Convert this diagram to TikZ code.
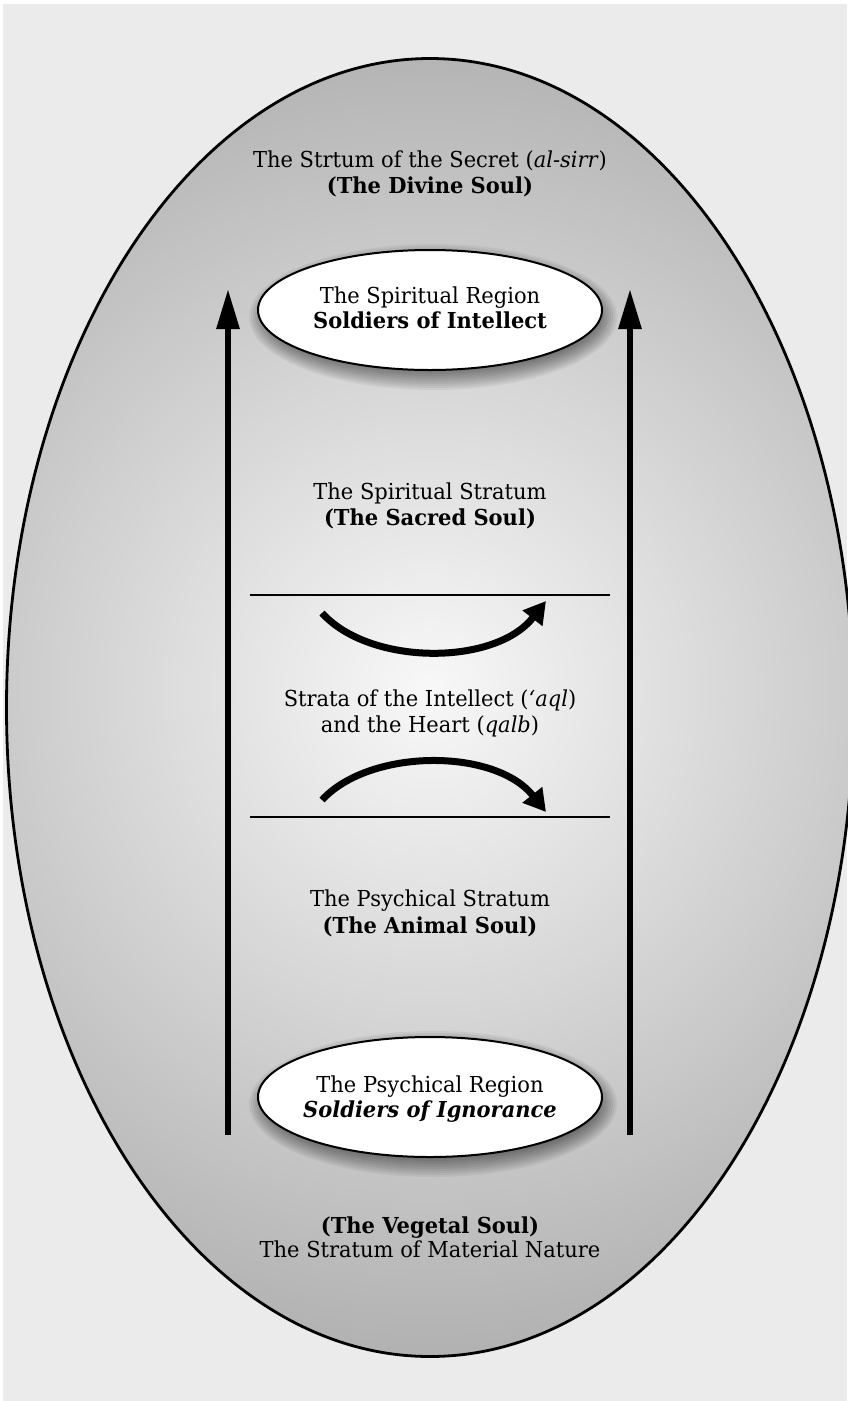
\documentclass[tikz,border=0pt]{standalone}
\usepackage{fontspec}
\setmainfont[FakeStretch=0.955]{DejaVu Serif}
\usetikzlibrary{arrows.meta,shapes.geometric}
\definecolor{bgc}{HTML}{EBEBEB}
\definecolor{shin}{HTML}{F8F8F8}
\definecolor{shout}{HTML}{B2B2B2}
\pgfdeclareradialshading{ovalshade}{\pgfpointorigin}{color(0bp)=(shin); color(23.5bp)=(shout); color(50bp)=(shout)}
\begin{document}
\begin{tikzpicture}[x=1pt,y=-1pt,
  txt/.style={font=\fontsize{22}{27}\selectfont, inner sep=0pt, anchor=base},
  outer/.style={ellipse, draw=black, line width=2.8pt, minimum width=847pt, minimum height=1298pt, inner sep=0pt},
  soulell/.style={ellipse, draw=black, line width=2pt, fill=white, minimum width=344pt, minimum height=120pt, inner sep=0pt},
  bigarrow/.style={line width=6pt, -{Triangle[length=40pt,width=22pt]}},
  curvarrow/.style={line width=7pt, -{Triangle[length=22pt,width=24pt]}},
  stratline/.style={line width=1.8pt}
]
\useasboundingbox (0,0) rectangle (847,1401);
\fill[white] (0,0) rectangle (847,1401);
\fill[bgc] (3,4) rectangle (847,1401);
% outer soul ellipse with gradient
\begin{scope}
  \clip (430,707.5) ellipse [x radius=423.5, y radius=649];
  \fill[shading=ovalshade] (430,690) circle [radius=700];
\end{scope}
\node[outer] (soul) at (430,707.5) {};
% vertical arrows
\coordinate (la0) at (228,1135);
\coordinate (la1) at (228,289);
\coordinate (ra0) at (630,1135);
\coordinate (ra1) at (630,289);
\draw[bigarrow] (la0) -- (la1);
\draw[bigarrow] (ra0) -- (ra1);
% shadows of inner ellipses
\foreach \c in {310,1097}{
  \foreach \i in {0,...,9}{
    \fill[black, opacity=0.05] (433,\c+7) ellipse [x radius=166+2*\i, y radius=55+2*\i];
  }
}
\node[soulell] (spir) at (430,310) {};
\node[soulell] (psych) at (430,1097) {};
% strata lines
\coordinate (h1l) at (250,595);
\coordinate (h1r) at (610,595);
\coordinate (h2l) at (250,817);
\coordinate (h2r) at (610,817);
\draw[stratline] (h1l) -- (h1r);
\draw[stratline] (h2l) -- (h2r);
% curved arrows
\coordinate (c1s) at (322,613);
\coordinate (c1e) at (546,601);
\coordinate (c2s) at (322,800);
\coordinate (c2e) at (546,812);
\draw[curvarrow] (c1s) .. controls (370,666) and (495,666) .. (c1e);
\draw[curvarrow] (c2s) .. controls (370,748) and (495,748) .. (c2e);
% texts
\node[txt] (t1a) at (430,167) {The Strtum of the Secret (\textit{al-sirr})};
\node[txt] (t1b) at (430,193) {\textbf{(The Divine Soul)}};
\node[txt] (sr1) at (430,303) {The Spiritual Region};
\node[txt] (sr2) at (430,328) {\textbf{Soldiers of Intellect}};
\node[txt] (ss1) at (430,499) {The Spiritual Stratum};
\node[txt] (ss2) at (430,525) {\textbf{(The Sacred Soul)}};
\node[txt] (st1) at (430,706) {Strata of the Intellect (\textit{‘aql})};
\node[txt] (st2) at (430,732) {and the Heart (\textit{qalb})};
\node[txt] (ps1) at (430,906) {The Psychical Stratum};
\node[txt] (ps2) at (430,933) {\textbf{(The Animal Soul)}};
\node[txt] (pr1) at (430,1092) {The Psychical Region};
\node[txt] (pr2) at (430,1117) {\textbf{\textit{Soldiers of Ignorance}}};
\node[txt] (vg1) at (430,1233) {\textbf{(The Vegetal Soul)}};
\node[txt] (vg2) at (430,1257) {The Stratum of Material Nature};
\end{tikzpicture}
\end{document}
